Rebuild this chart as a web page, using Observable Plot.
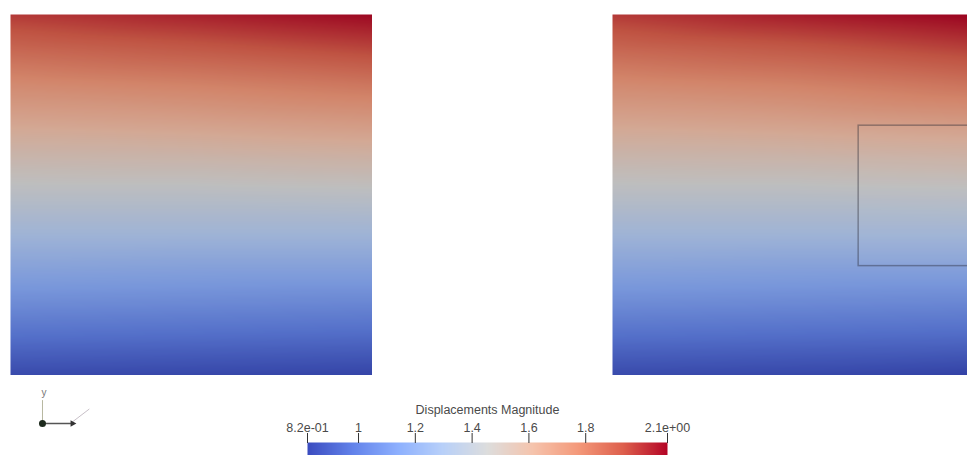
<!DOCTYPE html>
<html><head><meta charset="utf-8">
<script src="https://cdn.jsdelivr.net/npm/d3@7"></script>
<script src="https://cdn.jsdelivr.net/npm/@observablehq/plot@0.6"></script>
<style>
body{margin:0;background:#fff;overflow:hidden;font-family:"Liberation Sans",Arial,sans-serif}
#root{position:relative;width:967px;height:455px;overflow:hidden;background:#fff}
.abs{position:absolute}
.abs svg{max-width:none !important;display:block}
.mesh svg{filter:brightness(0.86)}
</style></head><body><div id="root"></div>
<script>
// mesh sample coordinates (model units)
const meshY = [1.0, 0.9, 0.8, 0.7, 0.6, 0.5, 0.4, 0.3, 0.2, 0.1, 0.0];
const meshX = [0, 0.5, 1];
const leftValues = [
  [1.98, 2.03, 2.08],
  [1.86, 1.90, 1.95],
  [1.74, 1.77, 1.81],
  [1.63, 1.65, 1.68],
  [1.52, 1.53, 1.55],
  [1.42, 1.42, 1.43],
  [1.31, 1.31, 1.31],
  [1.20, 1.19, 1.19],
  [1.09, 1.08, 1.07],
  [0.97, 0.96, 0.95],
  [0.85, 0.84, 0.83]
];
const rightValues = [
  [1.98, 2.04, 2.09],
  [1.86, 1.90, 1.96],
  [1.74, 1.77, 1.82],
  [1.63, 1.65, 1.68],
  [1.52, 1.53, 1.55],
  [1.42, 1.42, 1.43],
  [1.31, 1.31, 1.31],
  [1.20, 1.19, 1.19],
  [1.09, 1.08, 1.07],
  [0.97, 0.96, 0.95],
  [0.85, 0.84, 0.82]
];
// inset block on the right mesh (model units)
const insetX = [0.68, 1.0];
const insetY = [0.303, 0.692];
// colour bar
const rangeMin = 0.8203, rangeMax = 2.088;
const tickValues = [0.8203, 1, 1.2, 1.4, 1.6, 1.8, 2.088];
const tickLabels = ["8.2e-01", "1", "1.2", "1.4", "1.6", "1.8", "2.1e+00"];
const barTitle = ["Displacements Magnitude"];
const lutColors = ["#3b4cc0","#6282ea","#8db0fe","#b8d0f9","#dddddd","#f5c4ad","#f49a7b","#de604d","#b40426"];
// orientation triad
const triadAxes = [
  {axis:"y", pts:[[0,0],[0,1]]},
  {axis:"x", pts:[[0,0],[1,0]]},
  {axis:"z", pts:[[0.93,0],[1.55,0.62]]}
];
const triadLabels = [{t:"y", x:0.05, y:1.35}];

const colorScale = {type:"linear", domain:[rangeMin, rangeMax], interpolate: d3.piecewise(d3.interpolateRgb, lutColors)};
const root = document.getElementById("root");
function place(node, left, top, w, h, cls) {
  const d = document.createElement("div");
  d.className = "abs " + (cls || "");
  d.style.left = left + "px"; d.style.top = top + "px";
  d.style.width = w + "px"; d.style.height = h + "px";
  d.appendChild(node); root.appendChild(d);
}
function gridPoints(values) {
  return meshY.flatMap((y, i) => meshX.map((x, j) => ({x, y, v: values[i][j]})));
}
function meshPlot(values, withInset) {
  const marks = [
    Plot.raster(gridPoints(values), {x:"x", y:"y", fill:"v", x1:0, x2:1, y1:0, y2:1, interpolate:"barycentric"})
  ];
  if (withInset) {
    const ins = [{x1: insetX[0], x2: insetX[1], y1: insetY[0], y2: insetY[1]}];
    marks.push(Plot.rect(ins, {x1:"x1", x2:"x2", y1:"y1", y2:"y2", fill:"#ffffff", fillOpacity:0.05, stroke:"#2a2a3a", strokeOpacity:0.4, strokeWidth:1.5}));
  }
  return Plot.plot({
    width: 362, height: 361, margin: 0,
    x: {domain:[0,1], axis:null}, y: {domain:[0,1], axis:null},
    color: colorScale,
    marks
  });
}
place(meshPlot(leftValues, false), 10, 14, 362, 361, "mesh");
place(meshPlot(rightValues, true), 612, 14, 362, 361, "mesh");

// colour bar
const bar = Plot.plot({
  width: 450, height: 60,
  marginLeft: 47, marginRight: 43, marginTop: 47, marginBottom: 0,
  style: {fontSize:"12.5px", fontFamily:"'Liberation Sans', Arial, sans-serif", color:"#4a4a4a", background:"transparent"},
  x: {domain:[rangeMin, rangeMax], axis:null},
  y: {domain:[0,1], axis:null},
  color: colorScale,
  marks: [
    Plot.raster({x1:rangeMin, x2:rangeMax, y1:0, y2:1, fill:(x, y) => x}),
    Plot.axisX({anchor:"top", ticks:tickValues, tickFormat:d => tickLabels[tickValues.indexOf(d)], tickSize:10, tickPadding:1, label:null, stroke:"#333"}),
    Plot.text(barTitle, {frameAnchor:"top", dy:-37, fill:"#4a4a4a"})
  ]
});
place(bar, 260, 395, 450, 60);

// orientation triad
const triad = Plot.plot({
  width: 65, height: 48, margin: 0,
  x: {domain:[-0.333, 1.833], axis:null}, y: {domain:[-0.435, 1.652], axis:null},
  style: {fontSize:"10px", fontFamily:"'Liberation Sans', Arial, sans-serif", background:"transparent"},
  marks: [
    Plot.line(triadAxes.filter(a => a.axis === "y")[0].pts, {stroke:"#b8b8a0", strokeWidth:1}),
    Plot.line(triadAxes.filter(a => a.axis === "z")[0].pts, {stroke:"#c8c0c8", strokeWidth:1}),
    Plot.line(triadAxes.filter(a => a.axis === "x")[0].pts, {stroke:"#555", strokeWidth:1.5}),
    Plot.dot([triadAxes[1].pts[0]], {r:3.5, fill:"#1d2a1d"}),
    Plot.dot([triadAxes[1].pts[1]], {r:2.5, fill:"#333", symbol:"triangle", rotate:90}),
    Plot.text(triadLabels, {x:"x", y:"y", text:"t", fill:"#777"})
  ]
});
place(triad, 32, 385, 65, 48);
</script></body></html>
